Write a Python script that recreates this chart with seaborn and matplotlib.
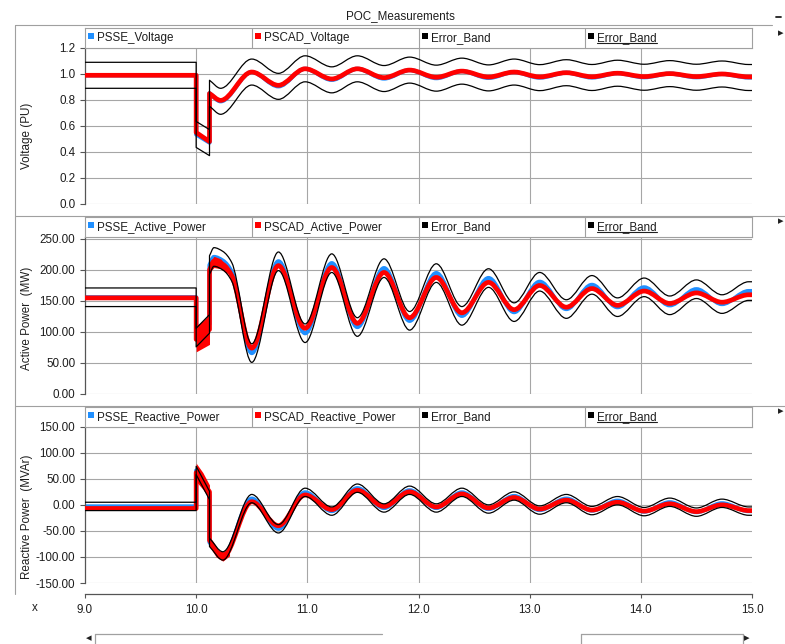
import numpy as np
import matplotlib
matplotlib.use("Agg")
import matplotlib.pyplot as plt
import seaborn as sns
from matplotlib.path import Path
from matplotlib.patches import PathPatch, Rectangle
from matplotlib.lines import Line2D
from matplotlib.ticker import FormatStrFormatter, MultipleLocator

sns.set_theme(style="white")
plt.rcParams['font.family'] = ['Liberation Sans', 'DejaVu Sans']
plt.rcParams['axes.unicode_minus'] = False

# ---- data (time in s) ----
# extrema of the post-fault oscillation, shared by all three panels
osc_t = [10.50, 10.74, 10.98, 11.22, 11.45, 11.69, 11.92, 12.16, 12.39, 12.63,
         12.86, 13.09, 13.33, 13.56, 13.79, 14.03, 14.26, 14.50, 14.73, 14.97, 15.0]

volt_t = [9.0, 10.0, 10.0, 10.12, 10.12, 10.22] + osc_t
volt_psse = [0.99, 0.99, 0.535, 0.472, 0.852, 0.79,
             1.015, 0.905, 1.04, 0.955, 1.04, 0.965, 1.03, 0.968, 1.022, 0.97,
             1.015, 0.972, 1.01, 0.973, 1.006, 0.975, 1.003, 0.975, 1.0, 0.973, 0.973]
volt_pscad = [0.99, 0.99, 0.55, 0.48, 0.85, 0.797,
              1.015, 0.913, 1.04, 0.962, 1.04, 0.972, 1.03, 0.975, 1.022, 0.977,
              1.015, 0.978, 1.01, 0.979, 1.006, 0.98, 1.003, 0.98, 1.0, 0.978, 0.978]
volt_band = 0.1

p_t = [9.0, 10.0, 10.0, 10.12, 10.12, 10.16, 10.24, 10.32] + osc_t
p_psse = [156, 156, 91, 113, 208, 221, 215, 197,
          66, 214, 98, 211, 108, 203, 118, 195, 126, 187, 132,
          181, 137, 176, 140, 172, 143, 169, 145, 166, 166]
p_pscad = [155, 155, 88, 104, 200, 214, 209, 191,
           74, 207, 106, 204, 114, 196, 123, 188, 131, 180, 136,
           175, 140, 170, 143, 166, 146, 163, 148, 160, 160]
p_band = 15
# spread of the noisy PSCAD trace around the fault
p_noise = [([10.0, 10.06, 10.12], [68, 74, 80], [110, 118, 128]),
           ([10.12, 10.16, 10.22, 10.28], [196, 204, 202, 194], [212, 222, 218, 206])]

q_t = [9.0, 10.0, 10.0, 10.12, 10.12, 10.24] + osc_t
q_psse = [-3, -3, 66, 18, -72, -98,
          12, -46, 24, -12, 32, -6, 28, -6, 24, -8, 17, -10, 12, -11, 8,
          -13, 5, -14, 3, -12, -12]
q_pscad = [-7, -7, 62, 25, -68, -100,
           6, -40, 19, -9, 28, -3, 25, -4, 21, -6, 14, -8, 9, -10, 5,
           -12, 2, -13, 0, -11, -11]
q_band = 8
q_noise = [([10.0, 10.06, 10.12], [45, 30, 12], [80, 62, 38]),
           ([10.12, 10.18, 10.24, 10.30], [-80, -100, -108, -98], [-60, -86, -90, -84])]

volt_labels = ["PSSE_Voltage", "PSCAD_Voltage", "Error_Band", "Error_Band"]
p_labels = ["PSSE_Active_Power", "PSCAD_Active_Power", "Error_Band", "Error_Band"]
q_labels = ["PSSE_Reactive_Power", "PSCAD_Reactive_Power", "Error_Band", "Error_Band"]

x_ticks = [9.0, 10.0, 11.0, 12.0, 13.0, 14.0, 15.0]

# ---- styling ----
BLUE, RED, BLACK = '#1f8fff', '#ff0000', '#000000'
GRID, FRAME, AXC, TXT = '#a6a6a6', '#a0a0a0', '#555555', '#1e1e1e'
FS = 8.4
W, H = 785, 644


def fbox(x0, y0, x1, y1):
    return [x0 / W, 1 - y1 / H, (x1 - x0) / W, (y1 - y0) / H]


def fline(xs, ys, **kw):
    fig.add_artist(Line2D([x / W for x in xs], [1 - y / H for y in ys],
                          transform=fig.transFigure, **kw))


def curve(ax, t, v, **kw):
    # monotone cubic (PCHIP-like) rendering of the read points, vertical jumps kept straight
    t = np.asarray(t, float)
    v = np.asarray(v, float)
    h = np.diff(t)
    jump = h < 1e-9
    d = np.where(jump, np.nan, np.diff(v) / np.where(jump, 1.0, h))
    n = len(t)
    m = np.zeros(n)
    for i in range(n):
        l = d[i - 1] if i > 0 else np.nan
        r = d[i] if i < n - 1 else np.nan
        if np.isnan(l) and np.isnan(r):
            m[i] = 0.0
        elif np.isnan(l):
            m[i] = r
        elif np.isnan(r):
            m[i] = l
        elif l * r <= 0:
            m[i] = 0.0
        else:
            m[i] = 2 * l * r / (l + r)
    verts, codes = [(t[0], v[0])], [Path.MOVETO]
    for i in range(n - 1):
        if jump[i]:
            verts.append((t[i + 1], v[i + 1]))
            codes.append(Path.LINETO)
        else:
            k = h[i] / 3
            verts += [(t[i] + k, v[i] + m[i] * k), (t[i + 1] - k, v[i + 1] - m[i + 1] * k),
                      (t[i + 1], v[i + 1])]
            codes += [Path.CURVE4] * 3
    ax.add_patch(PathPatch(Path(verts, codes), fill=False, capstyle='butt',
                           joinstyle='round', **kw))


fig = plt.figure(figsize=(W / 100, H / 100), dpi=100)
fig.patch.set_facecolor('white')

panels = [
    dict(top=47.7, bottom=204, ylim=(0, 1.2023), step=0.2, fmt='%.1f', label='Voltage (PU)', ly=136,
         leg=(27.7, 47.7), t=volt_t, psse=volt_psse, pscad=volt_pscad, band=volt_band, noise=[],
         labels=volt_labels),
    dict(top=237.3, bottom=394, ylim=(0, 252.7), step=50, fmt='%.2f', label='Active Power  (MW)', ly=318,
         leg=(216.5, 237.3), t=p_t, psse=p_psse, pscad=p_pscad, band=p_band, noise=p_noise,
         labels=p_labels),
    dict(top=426.7, bottom=583, ylim=(-150, 150), step=50, fmt='%.2f', label='Reactive Power  (MVAr)', ly=517,
         leg=(406.5, 426.7), t=q_t, psse=q_psse, pscad=q_pscad, band=q_band, noise=q_noise,
         labels=q_labels),
]

underline_texts = []
for i, pn in enumerate(panels):
    ax = fig.add_axes(fbox(85, pn['top'], 752, pn['bottom']))
    ax.set_facecolor('white')
    ax.set_xlim(9.0, 15.0)
    ax.set_ylim(*pn['ylim'])
    ax.yaxis.set_major_locator(MultipleLocator(pn['step']))
    ax.yaxis.set_major_formatter(FormatStrFormatter(pn['fmt']))
    ax.set_xticks(x_ticks)
    ax.xaxis.set_major_formatter(FormatStrFormatter('%.1f'))
    ax.yaxis.grid(True, color=GRID, lw=0.8)
    for xv in x_ticks[1:-1]:
        ax.axvline(xv, color=GRID, lw=0.8, zorder=0.5)
    ax.set_axisbelow(True)
    sns.despine(ax=ax, top=True, right=True, bottom=(i < 2))
    ax.spines['left'].set_color(AXC)
    ax.spines['left'].set_linewidth(0.9)
    ax.tick_params(axis='y', left=True, direction='out', length=3.6, width=0.8, color=AXC,
                   labelsize=FS, pad=3.4, labelcolor=TXT)
    if i < 2:
        ax.tick_params(axis='x', bottom=False, labelbottom=False)
    else:
        ax.spines['bottom'].set_visible(True)
        ax.spines['bottom'].set_position(('outward', 8))
        ax.spines['bottom'].set_color(AXC)
        ax.spines['bottom'].set_linewidth(0.9)
        ax.tick_params(axis='x', bottom=True, direction='out', length=3, width=0.8, color=AXC,
                       labelsize=FS, pad=4.2, labelcolor=TXT)

    t = pn['t']
    psse = np.asarray(pn['psse'], float)
    curve(ax, t, psse, edgecolor=BLUE, lw=3.0, zorder=2)
    curve(ax, t, pn['pscad'], edgecolor=RED, lw=3.4, zorder=3)
    for nt, lo, hi in pn['noise']:
        ax.fill_between(nt, lo, hi, color=RED, lw=0, zorder=3)
    curve(ax, t, psse + pn['band'], edgecolor=BLACK, lw=0.9, zorder=4)
    curve(ax, t, psse - pn['band'], edgecolor=BLACK, lw=0.9, zorder=4)

    fig.text(27 / W, 1 - pn['ly'] / H, pn['label'], rotation=90, ha='center', va='center',
             fontsize=FS, color=TXT)

    # legend strip above the plot
    y0, y1 = pn['leg']
    lg = fig.add_axes(fbox(85, y0, 752, y1))
    lg.set_xlim(0, 667)
    lg.set_ylim(y1 - y0, 0)
    lg.set_xticks([])
    lg.set_yticks([])
    lg.set_facecolor('white')
    for s in lg.spines.values():
        s.set_color(FRAME)
        s.set_linewidth(0.8)
    cw = 667 / 4
    cy = (y1 - y0) / 2
    for k, (name, col) in enumerate(zip(pn['labels'], [BLUE, RED, BLACK, BLACK])):
        if k:
            lg.axvline(k * cw, color=FRAME, lw=0.8)
        lg.add_patch(Rectangle((k * cw + 3, cy - 5), 6, 6, color=col, lw=0))
        tx = lg.text(k * cw + 12, cy + 0.3, name, ha='left', va='center', fontsize=FS, color=TXT)
        if k == 3:
            underline_texts.append(tx)

# frame lines and window decorations
fline([15, 772], [25, 25], color=FRAME, lw=0.8)
fline([15, 785], [215.5, 215.5], color=FRAME, lw=0.8)
fline([15, 785], [405.5, 405.5], color=FRAME, lw=0.8)
fline([15, 15], [25, 594], color=FRAME, lw=0.8)
fline([775.5, 781], [16.5, 16.5], color='#202020', lw=1.3)

fig.text(400 / W, 1 - 16 / H, 'POC_Measurements', ha='center', va='center', fontsize=FS, color=TXT)
fig.text(35 / W, 1 - 608 / H, 'x', ha='center', va='center', fontsize=FS, color=TXT)
for yy in (33, 221, 411):
    fig.text(781 / W, 1 - yy / H, '\u25b8', ha='center', va='center', fontsize=8,
             color='#202020', family='DejaVu Sans')

# horizontal scrollbar
fig.text(89 / W, 1 - 638.5 / H, '\u25c2', ha='center', va='center', fontsize=8,
         color='#202020', family='DejaVu Sans')
fig.text(747 / W, 1 - 638.5 / H, '\u25b8', ha='center', va='center', fontsize=8,
         color='#202020', family='DejaVu Sans')
fline([95, 382], [633.5, 633.5], color=FRAME, lw=0.9)
fline([95, 95], [633.5, 644], color=FRAME, lw=0.9)
fline([581, 743], [633.5, 633.5], color=FRAME, lw=0.9)
fline([581, 581], [633.5, 644], color=FRAME, lw=0.9)
fline([743, 743], [633.5, 644], color=FRAME, lw=0.9)

# underline the last legend entry of each panel
fig.canvas.draw()
rend = fig.canvas.get_renderer()
for tx in underline_texts:
    bb = tx.get_window_extent(renderer=rend)
    yl = bb.y0 + 1.2
    fig.add_artist(Line2D([bb.x0 / W, bb.x1 / W], [yl / H, yl / H],
                          transform=fig.transFigure, color=TXT, lw=0.8))

fig.savefig('out.png', dpi=100, facecolor='white')
